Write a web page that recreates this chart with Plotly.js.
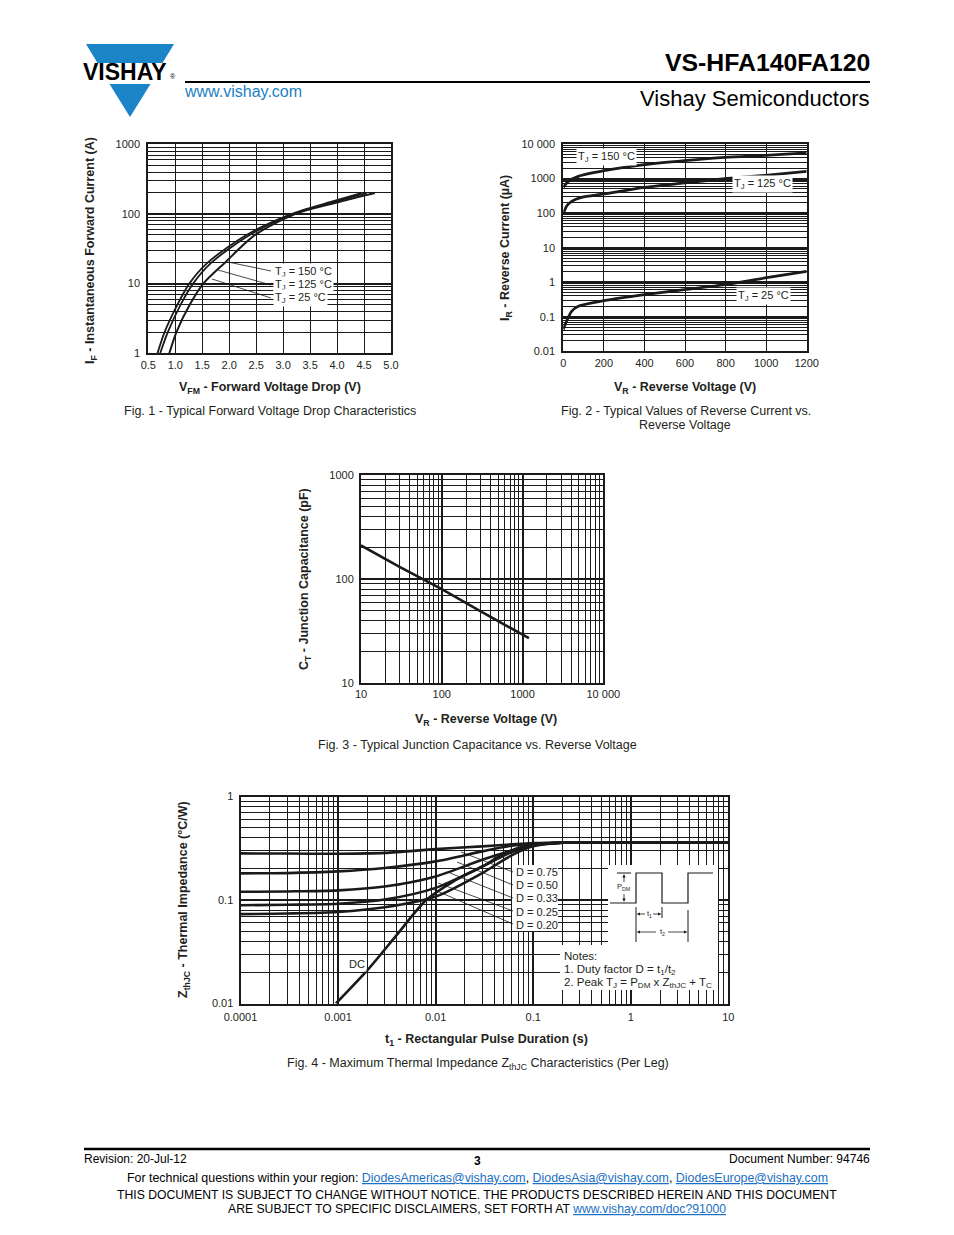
<!DOCTYPE html>
<html><head><meta charset="utf-8">
<script src="https://cdn.plot.ly/plotly-3.0.1.min.js"></script>
<style>html,body{margin:0;padding:0;background:#fff}#g{width:954px;height:1235px}</style>
</head><body><div id="g"></div>
<script>
const W = 954, H = 1235;
const F = '"Liberation Sans", Arial, Helvetica, sans-serif';
const TXT = '#231f20';
const LN = '#1a1a1a';

// ---------- Fig. 1 : forward voltage drop ----------
const f1Current = [1, 2, 5, 10, 20, 50, 100, 150, 200];
const f1V150 = [0.67, 0.80, 1.04, 1.26, 1.60, 2.32, 3.15, 3.90, 4.45];
const f1V125 = [0.72, 0.86, 1.10, 1.33, 1.67, 2.38, 3.20, 3.97, 4.55];
const f1V25  = [0.89, 1.02, 1.27, 1.52, 1.92, 2.48, 3.22, 4.05, 4.70];
const f1XTicks = [0.5, 1.0, 1.5, 2.0, 2.5, 3.0, 3.5, 4.0, 4.5, 5.0];
const f1XLabels = ['0.5', '1.0', '1.5', '2.0', '2.5', '3.0', '3.5', '4.0', '4.5', '5.0'];
const f1YTicks = [1, 10, 100, 1000];
const f1YLabels = ['1', '10', '100', '1000'];

// ---------- Fig. 2 : reverse current ----------
const f2V150 = [0, 25, 74, 202, 400, 597, 797, 995, 1200];
const f2I150 = [557, 832, 1161, 1693, 2524, 3296, 4113, 4700, 5500];
const f2V125 = [0, 16, 41, 90, 202, 400, 597, 797, 995, 1200];
const f2I125 = [94, 157, 219, 286, 358, 557, 745, 993, 1242, 1618];
const f2V25  = [0, 16, 41, 74, 202, 400, 597, 797, 995, 1200];
const f2I25  = [0.043, 0.074, 0.144, 0.201, 0.294, 0.438, 0.611, 0.853, 1.33, 2.07];
const f2XTicks = [0, 200, 400, 600, 800, 1000, 1200];
const f2XLabels = ['0', '200', '400', '600', '800', '1000', '1200'];
const f2YTicks = [0.01, 0.1, 1, 10, 100, 1000, 10000];
const f2YLabels = ['0.01', '0.1', '1', '10', '100', '1000', '10 000'];

// ---------- Fig. 3 : junction capacitance ----------
const f3V = [10, 30, 100, 300, 1200];
const f3C = [210, 131, 80, 49, 27];
const f3XTicks = [10, 100, 1000, 10000];
const f3XLabels = ['10', '100', '1000', '10 000'];
const f3YTicks = [10, 100, 1000];
const f3YLabels = ['10', '100', '1000'];

// ---------- Fig. 4 : thermal impedance ----------
const f4T = [0.0001, 0.0003, 0.001, 0.003, 0.01, 0.03, 0.06, 0.1, 0.2, 0.5, 1, 10];
const f4D75 = [0.282, 0.281, 0.280, 0.285, 0.310, 0.330, 0.345, 0.355, 0.358, 0.358, 0.358, 0.358];
const f4D50 = [0.181, 0.182, 0.189, 0.204, 0.236, 0.295, 0.335, 0.350, 0.358, 0.358, 0.358, 0.358];
const f4D33 = [0.120, 0.121, 0.124, 0.135, 0.169, 0.245, 0.300, 0.340, 0.358, 0.358, 0.358, 0.358];
const f4D25 = [0.089, 0.090, 0.092, 0.101, 0.131, 0.211, 0.290, 0.337, 0.358, 0.358, 0.358, 0.358];
const f4D20 = [0.073, 0.074, 0.0766, 0.085, 0.108, 0.182, 0.270, 0.330, 0.357, 0.358, 0.358, 0.358];
const f4TDC = [0.00095, 0.002, 0.004, 0.008, 0.015, 0.03, 0.05, 0.08, 0.12, 0.2, 1, 10];
const f4DC  = [0.010, 0.021, 0.046, 0.100, 0.150, 0.210, 0.280, 0.330, 0.350, 0.357, 0.358, 0.358];
const f4XTicks = [0.0001, 0.001, 0.01, 0.1, 1, 10];
const f4XLabels = ['0.0001', '0.001', '0.01', '0.1', '1', '10'];
const f4YTicks = [0.01, 0.1, 1];
const f4YLabels = ['0.01', '0.1', '1'];

// ---------- helpers ----------
const px = x => x / W;
const py = y => 1 - y / H;
function logMinor(d0, d1) {
  const v = [];
  for (let d = d0; d < d1; d++) for (let m = 2; m <= 9; m++) v.push(m * Math.pow(10, d));
  return v;
}
function baseAxis(extra) {
  return Object.assign({
    showline: true, mirror: true, linecolor: LN, linewidth: 2,
    showgrid: true, gridcolor: LN, gridwidth: 1, zeroline: false,
    ticks: '', tickmode: 'array', fixedrange: true,
    tickfont: { family: F, size: 11, color: TXT }
  }, extra);
}
function logAxis(domain, range, tv, tt, d0, d1, extra) {
  return baseAxis(Object.assign({
    type: 'log', domain: domain, range: range, tickvals: tv, ticktext: tt, gridwidth: 2,
    minor: { tickmode: 'array', tickvals: logMinor(d0, d1), showgrid: true, gridcolor: LN, gridwidth: 1, ticks: '' }
  }, extra || {}));
}
function A(t, x, y, size, o) {
  o = o || {};
  return Object.assign({
    text: t, xref: 'paper', yref: 'paper', x: px(x), y: py(y), showarrow: false,
    xanchor: o.xa || 'center', yanchor: 'middle',
    font: { family: F, size: size, color: o.color || TXT }
  }, o.extra || {});
}
function L(x0, y0, x1, y1, w, c) {
  return { type: 'line', xref: 'paper', yref: 'paper', x0: px(x0), y0: py(y0), x1: px(x1), y1: py(y1),
    line: { color: c || LN, width: w || 1 }, layer: 'above' };
}
function R(x0, y0, x1, y1) {
  return { type: 'rect', xref: 'paper', yref: 'paper', x0: px(x0), y0: py(y0), x1: px(x1), y1: py(y1),
    line: { width: 0 }, fillcolor: '#ffffff', layer: 'above' };
}
function P(pts, fill) {
  const d = pts.map((p, i) => (i ? 'L' : 'M') + px(p[0]).toFixed(5) + ',' + py(p[1]).toFixed(5)).join(' ') + (fill ? ' Z' : '');
  return { type: 'path', xref: 'paper', yref: 'paper', path: d,
    fillcolor: fill || 'rgba(0,0,0,0)', line: { color: fill ? fill : LN, width: fill ? 0 : 1.2 }, layer: 'above' };
}
// small arrow head, tip at (x,y)
function head(x, y, dir) {
  const s = 3.5, w = 1.6;
  let pts;
  if (dir === 'up') pts = [[x, y], [x - w, y + s], [x + w, y + s]];
  if (dir === 'down') pts = [[x, y], [x - w, y - s], [x + w, y - s]];
  if (dir === 'left') pts = [[x, y], [x + s, y - w], [x + s, y + w]];
  if (dir === 'right') pts = [[x, y], [x - s, y - w], [x - s, y + w]];
  return P(pts, LN);
}
const dom = (a, b) => [a / W, b / W];
const domY = (top, bot) => [1 - bot / H, 1 - top / H];

// ---------- traces ----------
const line = (w) => ({ color: LN, width: w, shape: 'spline', smoothing: 0.8 });
const traces = [
  { x: f1V150, y: f1Current, xaxis: 'x', yaxis: 'y', mode: 'lines', line: line(1.8), name: 'TJ = 150 °C' },
  { x: f1V125, y: f1Current, xaxis: 'x', yaxis: 'y', mode: 'lines', line: line(1.8), name: 'TJ = 125 °C' },
  { x: f1V25, y: f1Current, xaxis: 'x', yaxis: 'y', mode: 'lines', line: line(2), name: 'TJ = 25 °C' },
  { x: f2V150, y: f2I150, xaxis: 'x2', yaxis: 'y2', mode: 'lines', line: line(2.8), name: 'TJ = 150 °C' },
  { x: f2V125, y: f2I125, xaxis: 'x2', yaxis: 'y2', mode: 'lines', line: line(2.8), name: 'TJ = 125 °C' },
  { x: f2V25, y: f2I25, xaxis: 'x2', yaxis: 'y2', mode: 'lines', line: line(2.8), name: 'TJ = 25 °C' },
  { x: f3V, y: f3C, xaxis: 'x3', yaxis: 'y3', mode: 'lines', line: { color: LN, width: 2.6 }, name: 'CT' },
  { x: f4T, y: f4D75, xaxis: 'x4', yaxis: 'y4', mode: 'lines', line: line(2.6), name: 'D = 0.75' },
  { x: f4T, y: f4D50, xaxis: 'x4', yaxis: 'y4', mode: 'lines', line: line(2.6), name: 'D = 0.50' },
  { x: f4T, y: f4D33, xaxis: 'x4', yaxis: 'y4', mode: 'lines', line: line(2.6), name: 'D = 0.33' },
  { x: f4T, y: f4D25, xaxis: 'x4', yaxis: 'y4', mode: 'lines', line: line(2.6), name: 'D = 0.25' },
  { x: f4T, y: f4D20, xaxis: 'x4', yaxis: 'y4', mode: 'lines', line: line(2.6), name: 'D = 0.20' },
  { x: f4TDC, y: f4DC, xaxis: 'x4', yaxis: 'y4', mode: 'lines', line: line(2.6), name: 'DC' }
];

// ---------- annotations ----------
const ann = [
  // header
  A('<b>VS-HFA140FA120</b>', 872, 63, 24.8, { xa: 'right', color: '#000' }),
  A('Vishay Semiconductors', 872, 98, 22, { xa: 'right', color: '#000' }),
  A('www.vishay.com', 182, 91, 16, { xa: 'left', color: '#1b7fc4' }),
  A('<b>VISHAY</b>', 81, 72.5, 23, { xa: 'left', color: '#000' }),
  A('®', 168, 77, 7, { xa: 'left', color: '#000' }),
  // fig 1
  A('<b>I<sub>F</sub> - Instantaneous Forward Current (A)</b>', 91, 251, 12.5, { extra: { textangle: -90 } }),
  A('<b>V<sub>FM</sub> - Forward Voltage Drop (V)</b>', 270, 388, 12.5),
  A('Fig. 1 - Typical Forward Voltage Drop Characteristics', 270, 411, 12.5),
  A('T<sub>J</sub> = 150 °C', 273, 272, 11, { xa: 'left', extra: { bgcolor: '#fff' } }),
  A('T<sub>J</sub> = 125 °C', 273, 285, 11, { xa: 'left', extra: { bgcolor: '#fff' } }),
  A('T<sub>J</sub> = 25 °C', 273, 298, 11, { xa: 'left', extra: { bgcolor: '#fff' } }),
  // fig 2
  A('<b>I<sub>R</sub> - Reverse Current (µA)</b>', 506, 248, 12.5, { extra: { textangle: -90 } }),
  A('<b>V<sub>R</sub> - Reverse Voltage (V)</b>', 685, 388, 12.5),
  A('Fig. 2 - Typical Values of Reverse Current vs.', 686, 411, 12.5),
  A('Reverse Voltage', 685, 425, 12.5),
  A('T<sub>J</sub> = 150 °C', 576, 157, 11, { xa: 'left', extra: { bgcolor: '#fff' } }),
  A('T<sub>J</sub> = 125 °C', 732, 184, 11, { xa: 'left', extra: { bgcolor: '#fff' } }),
  A('T<sub>J</sub> = 25 °C', 736, 296, 11, { xa: 'left', extra: { bgcolor: '#fff' } }),
  // fig 3
  A('<b>C<sub>T</sub> - Junction Capacitance (pF)</b>', 305, 579, 12.5, { extra: { textangle: -90 } }),
  A('<b>V<sub>R</sub> - Reverse Voltage (V)</b>', 486, 720, 12.5),
  A('Fig. 3 - Typical Junction Capacitance vs. Reverse Voltage', 478, 745, 12.5),
  // fig 4
  A('<b>Z<sub>thJC</sub> - Thermal Impedance (°C/W)</b>', 184, 900, 12.5, { extra: { textangle: -90 } }),
  A('<b>t<sub>1</sub> - Rectangular Pulse Duration (s)</b>', 487, 1040, 12.5),
  A('Fig. 4 - Maximum Thermal Impedance Z<sub>thJC</sub> Characteristics (Per Leg)', 478, 1064, 12.5),
  A('D = 0.75', 514, 872, 11, { xa: 'left' }),
  A('D = 0.50', 514, 885, 11, { xa: 'left' }),
  A('D = 0.33', 514, 898, 11, { xa: 'left' }),
  A('D = 0.25', 514, 912, 11, { xa: 'left' }),
  A('D = 0.20', 514, 925, 11, { xa: 'left' }),
  A('DC', 357, 964, 11, { extra: { bgcolor: '#fff' } }),
  A('Notes:', 562, 956, 11.5, { xa: 'left' }),
  A('1. Duty factor D = t<sub>1</sub>/t<sub>2</sub>', 562, 970, 11.5, { xa: 'left' }),
  A('2. Peak T<sub>J</sub> = P<sub>DM</sub> x Z<sub>thJC</sub> + T<sub>C</sub>', 562, 983, 11.5, { xa: 'left' }),
  A('P<sub>DM</sub>', 623, 887, 7.5),
  A('t<sub>1</sub>', 649, 914, 7.5),
  A('t<sub>2</sub>', 662, 932, 7.5),
  // footer
  A('Revision: 20-Jul-12', 82, 1159, 12, { xa: 'left', color: '#000' }),
  A('<b>3</b>', 477, 1161, 12, { color: '#000' }),
  A('Document Number: 94746', 872, 1159, 12, { xa: 'right', color: '#000' }),
  A('For technical questions within your region: <span style="color:#1b6fc4;text-decoration:underline">DiodesAmericas@vishay.com</span>, <span style="color:#1b6fc4;text-decoration:underline">DiodesAsia@vishay.com</span>, <span style="color:#1b6fc4;text-decoration:underline">DiodesEurope@vishay.com</span>', 477, 1178, 12.4, { color: '#000' }),
  A('THIS DOCUMENT IS SUBJECT TO CHANGE WITHOUT NOTICE. THE PRODUCTS DESCRIBED HEREIN AND THIS DOCUMENT', 477, 1195, 12.2, { color: '#000' }),
  A('ARE SUBJECT TO SPECIFIC DISCLAIMERS, SET FORTH AT <span style="color:#1b6fc4;text-decoration:underline">www.vishay.com/doc?91000</span>', 477, 1209, 12.2, { color: '#000' })
];

// ---------- shapes ----------
const BLUE = '#1b84c6';
const shapes = [
  // logo
  P([[86, 44], [174, 44], [162.5, 63], [97.5, 63]], BLUE),
  P([[109.5, 84], [150.5, 84], [130, 117]], BLUE),
  // header / footer rules
  L(185, 82, 870, 82, 2, '#000'),
  L(84, 1149, 870, 1149, 2.5, '#000'),
  // fig 1 leaders
  L(228, 262, 271, 271, 0.8), L(218, 270, 271, 285, 0.8), L(212, 279, 271, 298, 0.8),
  // fig 4 white boxes (drawn before the leaders and the pulse sketch)
  R(512, 865, 558, 931), R(608, 865, 718, 945), R(560, 945, 718, 990),
  // fig 4 leaders
  L(461, 852, 513, 872, 0.8), L(457, 862, 513, 885, 0.8), L(450, 873, 513, 898, 0.8),
  L(438, 883, 513, 911, 0.8), L(430, 888, 513, 924, 0.8),
  // pulse waveform
  P([[610, 903], [636, 903], [636, 873], [662, 873], [662, 903], [688, 903], [688, 873], [713, 873]]),
  L(617, 873, 631, 873, 1),
  L(636, 907, 636, 942, 1), L(662, 907, 662, 918, 1), L(688, 910, 688, 942, 1),
  // dimension arrows
  L(624, 876, 624, 882, 0.8), head(624, 874, 'up'),
  L(624, 894, 624, 900, 0.8), head(624, 902, 'down'),
  L(639, 914, 645, 914, 0.8), head(636.5, 914, 'left'),
  L(653, 914, 659, 914, 0.8), head(661.5, 914, 'right'),
  L(639, 932, 656, 932, 0.8), head(636.5, 932, 'left'),
  L(668, 932, 685, 932, 0.8), head(687.5, 932, 'right')
];

const layout = {
  width: W, height: H, margin: { l: 0, r: 0, t: 0, b: 0 },
  paper_bgcolor: '#fff', plot_bgcolor: '#fff', showlegend: false,
  font: { family: F, color: TXT },
  xaxis: baseAxis({ domain: dom(148.3, 391), range: [0.5, 5.0], tickvals: f1XTicks, ticktext: f1XLabels, anchor: 'y' }),
  yaxis: logAxis(domY(144.3, 353.3), [0, 3], f1YTicks, f1YLabels, 0, 3, { anchor: 'x', ticklabelstandoff: 4 }),
  xaxis2: baseAxis({ domain: dom(563.3, 806.7), range: [0, 1200], tickvals: f2XTicks, ticktext: f2XLabels, anchor: 'y2' }),
  yaxis2: logAxis(domY(144, 351.3), [-2, 4], f2YTicks, f2YLabels, -2, 4, { anchor: 'x2', ticklabelstandoff: 4 }),
  xaxis3: logAxis(dom(361, 603.3), [1, 4], f3XTicks, f3XLabels, 1, 4, { anchor: 'y3' }),
  yaxis3: logAxis(domY(475, 683), [1, 3], f3YTicks, f3YLabels, 1, 3, { anchor: 'x3', ticklabelstandoff: 3 }),
  xaxis4: logAxis(dom(240.5, 728.3), [-4, 1], f4XTicks, f4XLabels, -4, 1, { anchor: 'y4', ticklabelstandoff: 2 }),
  yaxis4: logAxis(domY(796.5, 1003.5), [-2, 0], f4YTicks, f4YLabels, -2, 0, { anchor: 'x4', ticklabelstandoff: 3 }),
  annotations: ann, shapes: shapes
};

Plotly.newPlot('g', traces, layout, { staticPlot: true, displayModeBar: false });
</script>
</body></html>
